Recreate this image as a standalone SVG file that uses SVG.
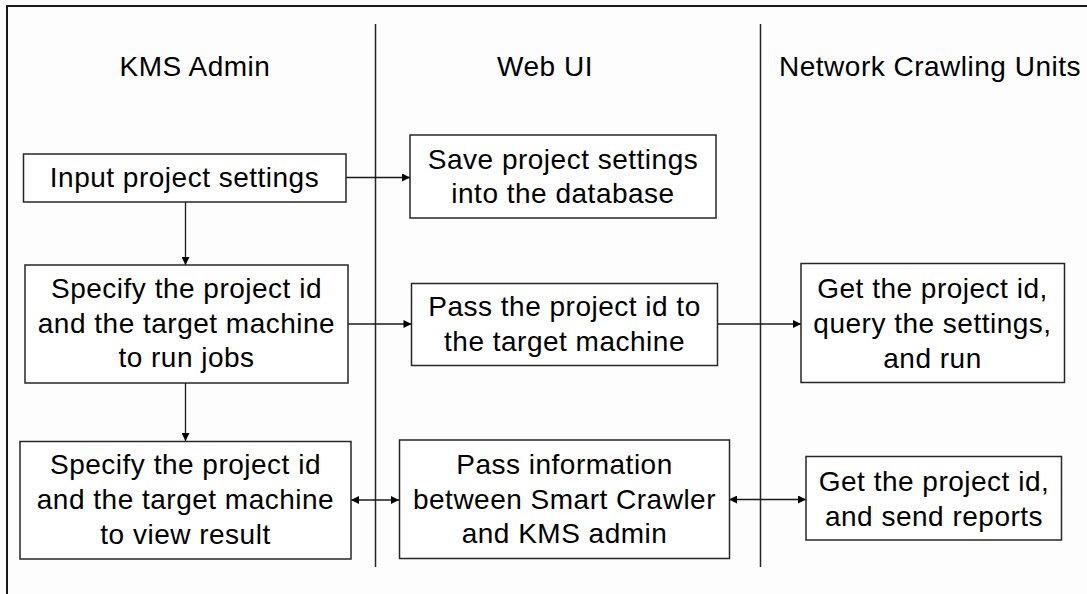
<svg xmlns="http://www.w3.org/2000/svg" width="1087" height="594" viewBox="0 0 1087 594">
<style>
.bg{fill:#fdfdfd}
.box{fill:#ffffff;stroke:#262626;stroke-width:1.5}
.lane{stroke:#262626;stroke-width:1.5;fill:none}
.frame{stroke:#1a1a1a;stroke-width:2;fill:none}
.t{font-family:"Liberation Sans",Arial,sans-serif;font-size:28px;letter-spacing:0.5px;fill:#000;text-anchor:middle}
.c{stroke:#1a1a1a;stroke-width:1.3;fill:none}
</style>
<defs>
<marker id="ah" viewBox="0 0 10 10" refX="10" refY="5" markerWidth="9" markerHeight="8" markerUnits="userSpaceOnUse" orient="auto-start-reverse">
<path d="M0,0 L10,5 L0,10 Z" fill="#000"/>
</marker>
</defs>
<rect class="bg" x="0" y="0" width="1087" height="594"/>
<path class="frame" d="M7,594 V6 H1087"/>
<g id="lanes">
<line class="lane" x1="375.5" y1="24" x2="375.5" y2="567"/>
<line class="lane" x1="760.5" y1="24" x2="760.5" y2="567"/>
<text class="t" x="195" y="76">KMS Admin</text>
<text class="t" x="545" y="76">Web UI</text>
<text class="t" x="930" y="76">Network Crawling Units</text>
</g>
<g id="connectors">
<line class="c" x1="346" y1="177.5" x2="410" y2="177.5" marker-end="url(#ah)"/>
<line class="c" x1="185.5" y1="202" x2="185.5" y2="265" marker-end="url(#ah)"/>
<line class="c" x1="348" y1="324" x2="411.5" y2="324" marker-end="url(#ah)"/>
<line class="c" x1="717" y1="324" x2="801" y2="324" marker-end="url(#ah)"/>
<line class="c" x1="185.5" y1="383" x2="185.5" y2="441" marker-end="url(#ah)"/>
<line class="c" x1="351" y1="500" x2="399" y2="500" marker-start="url(#ah)" marker-end="url(#ah)"/>
<line class="c" x1="729" y1="499.5" x2="806" y2="499.5" marker-start="url(#ah)" marker-end="url(#ah)"/>
</g>
<g id="n1">
<rect class="box" x="23.5" y="154" width="322.5" height="48"/>
<text class="t" x="184.5" y="187">Input project settings</text>
</g>
<g id="n2">
<rect class="box" x="410" y="135" width="306" height="83"/>
<text class="t" x="563" y="168.5">Save project settings</text>
<text class="t" x="563" y="203">into the database</text>
</g>
<g id="n3">
<rect class="box" x="25" y="265" width="323" height="118"/>
<text class="t" x="186.5" y="298">Specify the project id</text>
<text class="t" x="186.5" y="333">and the target machine</text>
<text class="t" x="186.5" y="367">to run jobs</text>
</g>
<g id="n4">
<rect class="box" x="411.5" y="283.5" width="306" height="82"/>
<text class="t" x="564.5" y="316">Pass the project id to</text>
<text class="t" x="564.5" y="351">the target machine</text>
</g>
<g id="n5">
<rect class="box" x="801" y="263.5" width="263.5" height="119"/>
<text class="t" x="932.5" y="298">Get the project id,</text>
<text class="t" x="932.5" y="333">query the settings,</text>
<text class="t" x="932.5" y="368">and run</text>
</g>
<g id="n6">
<rect class="box" x="20" y="441.5" width="331" height="117.5"/>
<text class="t" x="185.5" y="474">Specify the project id</text>
<text class="t" x="185.5" y="509">and the target machine</text>
<text class="t" x="185.5" y="544">to view result</text>
</g>
<g id="n7">
<rect class="box" x="399.5" y="440" width="330" height="118.5"/>
<text class="t" x="564.5" y="473.5">Pass information</text>
<text class="t" x="564.5" y="508.5">between Smart Crawler</text>
<text class="t" x="564.5" y="543">and KMS admin</text>
</g>
<g id="n8">
<rect class="box" x="806" y="456.5" width="255.5" height="83.5"/>
<text class="t" x="934" y="491">Get the project id,</text>
<text class="t" x="934" y="526">and send reports</text>
</g>
</svg>
